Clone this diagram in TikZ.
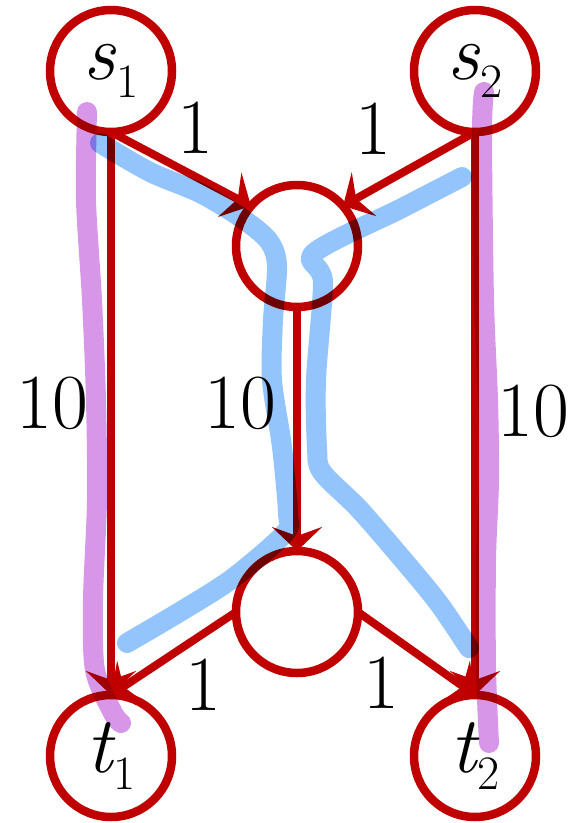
\documentclass[tikz,border=0pt]{standalone}
\usepackage{fontspec}
\usetikzlibrary{arrows.meta}
\definecolor{dred}{RGB}{192,0,0}
\definecolor{hlblue}{RGB}{148,196,252}
\definecolor{hlpurple}{RGB}{216,150,232}
\newcommand{\vlab}[2]{{\itshape #1}\kern1pt\raisebox{-0.22em}{\fontsize{48}{48}\selectfont #2}}
\tikzset{
  vtx/.style={circle, draw=dred, line width=8.5pt, minimum size=122pt, inner sep=0pt, outer sep=0pt, font=\fontsize{80}{84}\selectfont},
  edge/.style={draw=dred, line width=8pt, -{Stealth[length=24pt,width=50pt,inset=9pt]}},
  wlabel/.style={font=\fontsize{78}{82}\selectfont, inner sep=0pt},
  hl/.style={line width=20pt, line cap=round, line join=round},
}
\begin{document}
\begin{tikzpicture}[x=1pt,y=-1pt]
\useasboundingbox (0,0) rectangle (574,823);
\node[vtx] (s1) at (111,71) {\vlab{s}{1}};
\node[vtx] (s2) at (475,71) {\vlab{s}{2}};
\node[vtx] (m1) at (297,246) {};
\node[vtx] (m2) at (297,612) {};
\node[vtx] (t1) at (111,756) {\vlab{t}{1}};
\node[vtx] (t2) at (475,756) {\vlab{t}{2}};
\draw[edge] (s1.south) -- (m1.139);
\draw[edge] (s2.south) -- (m1.41);
\draw[edge] (s1.south) -- (t1.north);
\draw[edge] (s2.south) -- (t2.north);
\draw[edge] (m1.south) -- (m2.north);
\draw[edge] (m2.west) -- (t1.north);
\draw[edge] (m2.east) -- (t2.north);
\node[wlabel] (la) at (195,128) {1};
\node[wlabel] (lb) at (373,129) {1};
\node[wlabel] (lc) at (203,685) {1};
\node[wlabel] (ld) at (381,683) {1};
\node[wlabel] (le) at (52,403) {10};
\node[wlabel] (lf) at (240,403) {10};
\node[wlabel] (lg) at (533,411) {10};
\begin{scope}[blend mode=multiply]
\draw[hl, hlblue] plot[smooth, tension=0.5] coordinates {(100,143) (150,172) (200,193) (240,217) (268,240) (277,265) (273,320) (272,380) (282,447) (288,513) (285,533) (233,578) (183,610) (127,643)};
\draw[hl, hlblue] plot[smooth, tension=0.5] coordinates {(462,177) (400,209) (314,253) (323,282) (316,380) (317,447) (322,472) (360,510) (410,568) (440,605) (469,648)};
\draw[hl, hlpurple] plot[smooth, tension=0.5] coordinates {(87,112) (86,200) (92,300) (96,400) (97,500) (93,600) (95,670) (113,713) (121,723)};
\draw[hl, hlpurple] plot[smooth, tension=0.5] coordinates {(484,92) (482,133) (484,300) (488,400) (489,480) (486,560) (486,667) (489,743)};
\end{scope}
\end{tikzpicture}
\end{document}
